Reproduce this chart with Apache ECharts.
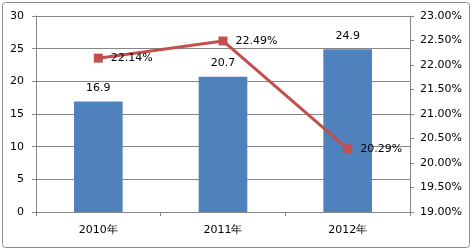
<!DOCTYPE html>
<html>
<head>
<meta charset="utf-8">
<script src="https://cdn.jsdelivr.net/npm/echarts@6/dist/echarts.min.js"></script>
<style>
html,body{margin:0;padding:0;background:#fff;}
#chart{width:473px;height:250px;}
</style>
</head>
<body>
<div id="chart"></div>
<script>
// Yearly values (bars, left axis) and growth share (line, right axis)
const years = ['2010年', '2011年', '2012年'];
const amounts = [16.9, 20.7, 24.9];
const shares = [22.14, 22.49, 20.29];

const textColor = '#000';
const gridColor = '#868686';
const font = 'DejaVu Sans';

const chart = echarts.init(document.getElementById('chart'), null, { renderer: 'canvas' });
chart.setOption({
  animation: false,
  backgroundColor: '#fff',
  graphic: [{
    type: 'rect',
    shape: { x: 2.5, y: 2.5, width: 467, height: 245, r: 3 },
    style: { fill: 'none', stroke: '#8c8c8c', lineWidth: 1 },
    silent: true
  }],
  grid: { left: 36, right: 63, top: 16, bottom: 38, containLabel: false },
  xAxis: {
    type: 'category',
    data: years,
    axisLine: { lineStyle: { color: gridColor } },
    axisTick: { show: true, length: 4, lineStyle: { color: gridColor } },
    axisLabel: { color: textColor, fontFamily: font, fontSize: 11, margin: 13 }
  },
  yAxis: [{
    type: 'value',
    min: 0, max: 30, interval: 5,
    axisLine: { show: true, lineStyle: { color: gridColor } },
    axisTick: { show: true, length: 4, lineStyle: { color: gridColor } },
    splitLine: { lineStyle: { color: gridColor } },
    axisLabel: { color: textColor, fontFamily: font, fontSize: 11, margin: 12 }
  }, {
    type: 'value',
    min: 19, max: 23, interval: 0.5,
    position: 'right',
    axisLine: { show: true, lineStyle: { color: gridColor } },
    axisTick: { show: true, length: 4, lineStyle: { color: gridColor } },
    splitLine: { show: false },
    axisLabel: {
      color: textColor, fontFamily: font, fontSize: 11, margin: 10,
      formatter: v => v.toFixed(2) + '%'
    }
  }],
  series: [{
    type: 'bar',
    data: amounts,
    yAxisIndex: 0,
    barWidth: '39%',
    itemStyle: { color: '#4F81BD' },
    label: {
      show: true, position: 'top', distance: 8,
      color: textColor, fontFamily: font, fontSize: 11
    }
  }, {
    type: 'line',
    data: shares,
    yAxisIndex: 1,
    symbol: 'rect',
    symbolSize: 9,
    lineStyle: { color: '#C0504D', width: 3 },
    itemStyle: { color: '#C0504D' },
    label: {
      show: true, position: 'right', distance: 8,
      color: textColor, fontFamily: font, fontSize: 11,
      formatter: p => p.value.toFixed(2) + '%'
    }
  }]
});
</script>
</body>
</html>
